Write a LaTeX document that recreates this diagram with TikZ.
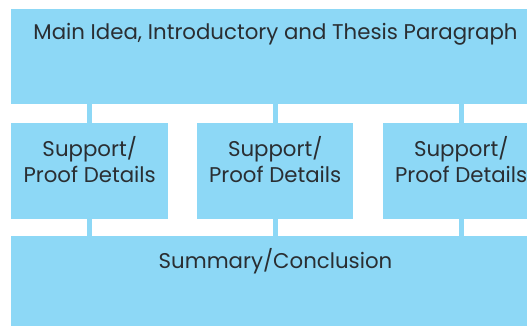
\documentclass[tikz,border=0pt]{standalone}
\usepackage{fontspec}
\setmainfont{Poppins}
\definecolor{boxblue}{RGB}{141,216,246}
\definecolor{inkgray}{RGB}{42,46,50}
\begin{document}
\begin{tikzpicture}[x=1pt,y=-1pt,
  block/.style={fill=boxblue,draw=none,inner sep=0pt,anchor=north west},
  label/.style={text=inkgray,font=\fontsize{21.3}{26}\selectfont,inner sep=0pt,anchor=base},
  conn/.style={draw=boxblue,line width=5pt}]
\useasboundingbox (0,0) rectangle (527,326);
\clip (0,0) rectangle (527,326);
% blocks
\node[block,minimum width=528pt,minimum height=95pt] (top) at (11,9) {};
\node[block,minimum width=157pt,minimum height=96pt] (s1) at (11,123) {};
\node[block,minimum width=156pt,minimum height=96pt] (s2) at (197,123) {};
\node[block,minimum width=156pt,minimum height=96pt] (s3) at (383,123) {};
\node[block,minimum width=528pt,minimum height=100pt] (bot) at (11,236) {};
% connectors running from the top block to the bottom block
\draw[conn] (top.south -| s1.center) -- (bot.north -| s1.center);
\draw[conn] (top.south -| s2.center) -- (bot.north -| s2.center);
\draw[conn] (top.south -| s3.center) -- (bot.north -| s3.center);
% texts
\node[label] (ttop) at (275.5,39.3) {Main Idea, Introductory and Thesis Paragraph};
\foreach \s in {s1,s2,s3}{
  \node[label] (\s a) at (\s.center|-0,156.7) {Support/};
  \node[label] (\s b) at (\s.center|-0,182.3) {Proof Details};
}
\node[label] (tbot) at (275.5,268.3) {Summary/Conclusion};
\end{tikzpicture}
\end{document}
